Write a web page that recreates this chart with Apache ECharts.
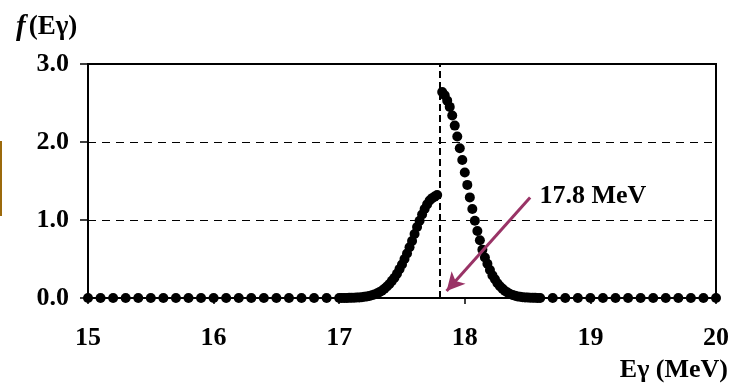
<!DOCTYPE html>
<html>
<head>
<meta charset="utf-8">
<script src="https://cdn.jsdelivr.net/npm/echarts@6/dist/echarts.min.js"></script>
<style>
  html, body { margin: 0; padding: 0; background: #fff; }
  #chart { width: 732px; height: 384px; }
</style>
</head>
<body>
<div id="chart"></div>
<script>
// Gamma-ray energy distribution f(Eγ) around the 17.8 MeV line

const FONT = '"Liberation Serif", "Times New Roman", serif';

// Energy axis tick values (MeV)
const xTicks = [15, 16, 17, 18, 19, 20];
// f(Eγ) axis tick values
const yTicks = [0, 1, 2, 3];

// Marked line energy (MeV)
const lineEnergy = 17.8;

// Flat low-energy tail
const lowTailE = [15.0, 15.1, 15.2, 15.3, 15.4, 15.5, 15.6, 15.7, 15.8, 15.9,
                  16.0, 16.1, 16.2, 16.3, 16.4, 16.5, 16.6, 16.7, 16.8, 16.9];
const lowTailF = [0, 0, 0, 0, 0, 0, 0, 0, 0, 0,
                  0, 0, 0, 0, 0, 0, 0, 0, 0, 0];

// Rising edge below the line
const riseE = [17.00, 17.02, 17.04, 17.06, 17.08, 17.10, 17.12, 17.14, 17.16, 17.18,
               17.20, 17.22, 17.24, 17.26, 17.28, 17.30, 17.32, 17.34, 17.36, 17.38,
               17.40, 17.42, 17.44, 17.46, 17.48, 17.50, 17.52, 17.54, 17.56, 17.58,
               17.60, 17.62, 17.64, 17.66, 17.68, 17.70, 17.72, 17.74, 17.76, 17.78];
const riseF = [0.000, 0.001, 0.001, 0.001, 0.002, 0.003, 0.004, 0.006, 0.008, 0.011,
               0.015, 0.020, 0.026, 0.035, 0.045, 0.058, 0.075, 0.094, 0.118, 0.147,
               0.18, 0.22, 0.26, 0.31, 0.37, 0.43, 0.50, 0.57, 0.65, 0.73,
               0.82, 0.91, 0.99, 1.07, 1.14, 1.20, 1.25, 1.28, 1.30, 1.32];

// Falling edge above the line
const fallE = [17.82, 17.84, 17.86, 17.88, 17.90, 17.92, 17.94, 17.96, 17.98, 18.00,
               18.02, 18.04, 18.06, 18.08, 18.10, 18.12, 18.14, 18.16, 18.18, 18.20,
               18.22, 18.24, 18.26, 18.28, 18.30, 18.32, 18.34, 18.36, 18.38, 18.40,
               18.42, 18.44, 18.46, 18.48, 18.50, 18.52, 18.54, 18.56, 18.58, 18.60];
const fallF = [2.64, 2.60, 2.53, 2.45, 2.34, 2.21, 2.07, 1.92, 1.77, 1.61,
               1.45, 1.29, 1.14, 0.99, 0.86, 0.74, 0.62, 0.52, 0.44, 0.36,
               0.29, 0.24, 0.19, 0.15, 0.12, 0.09, 0.07, 0.05, 0.04, 0.03,
               0.02, 0.015, 0.010, 0.008, 0.006, 0.004, 0.003, 0.002, 0.001, 0.001];

// Flat high-energy tail
const highTailE = [18.7, 18.8, 18.9, 19.0, 19.1, 19.2, 19.3, 19.4, 19.5, 19.6, 19.7, 19.8, 19.9, 20.0];
const highTailF = [0, 0, 0, 0, 0, 0, 0, 0, 0, 0, 0, 0, 0, 0];

// Annotation arrow, in data coordinates: tail near the label, head near the line foot
const arrowFrom = [18.52, 1.29];
const arrowTo = [17.855, 0.09];
const labelAt = [18.595, 1.31];

function pairs(es, fs) { return es.map((e, i) => [e, fs[i]]); }
const points = [].concat(
  pairs(lowTailE, lowTailF),
  pairs(riseE, riseF),
  pairs(fallE, fallF),
  pairs(highTailE, highTailF)
);

const chart = echarts.init(document.getElementById('chart'), null, { renderer: 'canvas' });

chart.setOption({
  animation: false,
  backgroundColor: '#fff',
  grid: {
    left: 88, right: 14, top: 64, bottom: 86,
    show: true, borderColor: '#000', borderWidth: 2, backgroundColor: 'transparent'
  },
  xAxis: {
    type: 'value',
    min: xTicks[0], max: xTicks[xTicks.length - 1], interval: 1,
    axisLine: { show: true, lineStyle: { color: '#000', width: 2 } },
    axisTick: { show: true, inside: false, length: 6, lineStyle: { color: '#000', width: 1.5 } },
    axisLabel: { color: '#000', fontFamily: FONT, fontWeight: 'bold', fontSize: 26, margin: 27 },
    splitLine: { show: false }
  },
  yAxis: {
    type: 'value',
    min: yTicks[0], max: yTicks[yTicks.length - 1], interval: 1,
    axisLine: { show: true, lineStyle: { color: '#000', width: 2 } },
    axisTick: { show: true, inside: false, length: 8, lineStyle: { color: '#000', width: 1.5 } },
    axisLabel: {
      color: '#000', fontFamily: FONT, fontWeight: 'bold', fontSize: 26, margin: 19,
      formatter: v => v.toFixed(1)
    },
    splitLine: { show: true, lineStyle: { color: '#000', width: 1, type: [8, 6] } }
  },
  graphic: [
    // thin coloured bar at the left edge
    { type: 'rect', left: 0, top: 141, shape: { width: 2, height: 75 }, style: { fill: '#9c6a0c' } },
    {
      type: 'text', left: 16, top: 13,
      style: {
        text: '{i|f}{b|(Eγ)}',
        rich: {
          i: { fontFamily: FONT, fontStyle: 'italic', fontWeight: 'bold', fontSize: 29, fill: '#000', padding: [0, 3, 0, 0] },
          b: { fontFamily: FONT, fontWeight: 'bold', fontSize: 27, fill: '#000' }
        }
      }
    },
    {
      type: 'text', right: 4, top: 357,
      style: { text: 'Eγ (MeV)', font: 'bold 26px ' + FONT, fill: '#000' }
    }
  ],
  series: [
    {
      type: 'scatter',
      data: points,
      symbol: 'circle',
      symbolSize: 10,
      clip: false,
      itemStyle: { color: '#000', opacity: 1 },
      z: 3,
      markLine: {
        silent: true,
        animation: false,
        data: [
          [
            { coord: [lineEnergy, yTicks[0]], symbol: 'none' },
            { coord: [lineEnergy, yTicks[yTicks.length - 1]], symbol: 'none' }
          ]
        ],
        lineStyle: { color: '#000', width: 2, type: [7, 4] },
        label: { show: false }
      }
    },
    {
      type: 'scatter',
      data: [],
      markLine: {
        silent: true,
        animation: false,
        symbol: ['none', 'arrow'],
        symbolSize: [14, 18],
        data: [[{ coord: arrowFrom }, { coord: arrowTo }]],
        lineStyle: { color: '#993366', width: 3, type: 'solid' },
        label: { show: false }
      },
      markPoint: {
        silent: true,
        animation: false,
        symbol: 'circle',
        symbolSize: 0,
        data: [{ coord: labelAt }],
        label: {
          show: true, position: 'right', distance: 0,
          formatter: lineEnergy.toFixed(1) + ' MeV',
          fontFamily: FONT, fontWeight: 'bold', fontSize: 26, color: '#000'
        }
      },
      z: 4
    }
  ]
});
</script>
</body>
</html>
